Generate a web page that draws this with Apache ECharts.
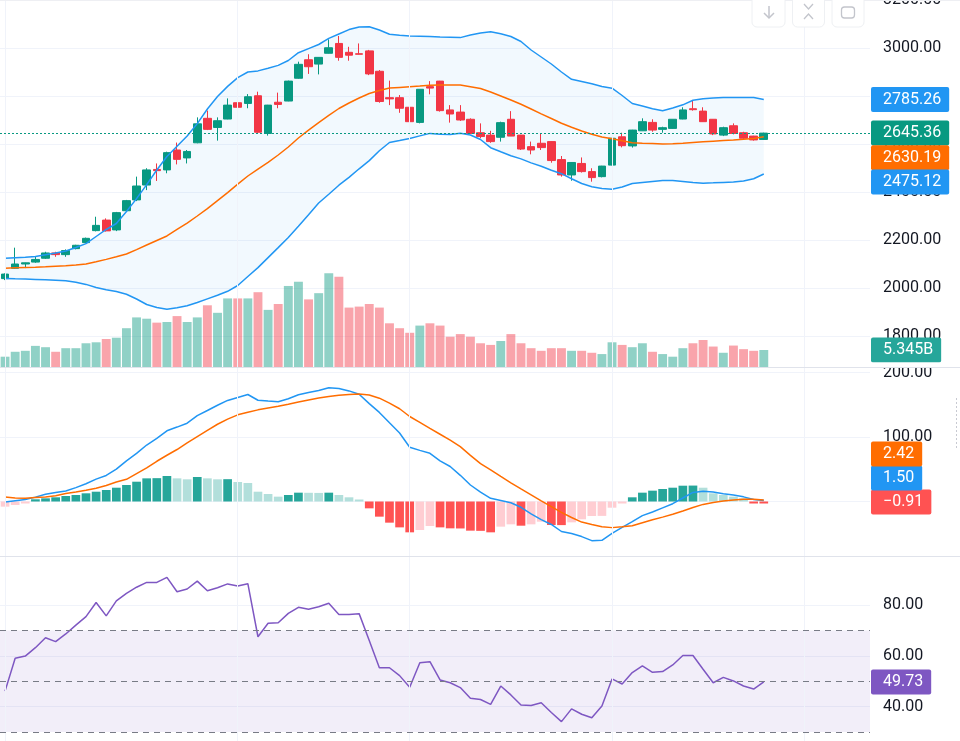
<!DOCTYPE html>
<html>
<head>
<meta charset="utf-8">
<script src="https://cdn.jsdelivr.net/npm/echarts@6/dist/echarts.min.js"></script>
<style>html,body{margin:0;padding:0;background:#fff;}#c{width:960px;height:741px;}</style>
</head>
<body>
<div id="c"></div>
<script>
// ---------- data ----------
const opens  = [2039,2082,2100,2108,2124,2146,2139,2164,2189,2239,2283,2242,2322,2367,2429,2494,2492,2575,2542,2605,2707,2669,2704,2772,2769,2801,2644,2774,2779,2874,2951,2933,2978,3019,2982,2976,2988,2903,2793,2793,2753,2690,2839,2862,2742,2733,2703,2647,2637,2628,2703,2637,2589,2603,2610,2535,2471,2519,2485,2464,2512,2630,2592,2655,2690,2661,2665,2704,2747,2737,2703,2637,2676,2647,2633,2619];
const highs  = [2061,2168,2106,2133,2151,2151,2161,2180,2210,2297,2290,2317,2367,2464,2499,2519,2568,2606,2575,2711,2739,2711,2790,2807,2808,2818,2763,2814,2864,2943,2974,2962,3036,3050,3005,3019,2992,2908,2864,2804,2783,2828,2862,2863,2762,2762,2707,2686,2655,2693,2737,2638,2610,2644,2611,2550,2524,2544,2499,2509,2624,2647,2659,2707,2703,2672,2703,2753,2783,2753,2704,2672,2686,2651,2634,2647];
const lows   = [2033,2080,2083,2105,2121,2130,2130,2161,2186,2236,2235,2237,2318,2362,2408,2446,2478,2515,2519,2603,2658,2614,2703,2744,2749,2644,2635,2749,2778,2872,2892,2890,2977,2947,2947,2973,2887,2772,2762,2730,2689,2686,2807,2735,2689,2696,2642,2624,2605,2610,2633,2575,2557,2575,2522,2464,2447,2481,2443,2461,2511,2586,2585,2654,2651,2647,2664,2703,2739,2692,2637,2633,2640,2619,2614,2618];
const closes = [2058,2100,2105,2119,2146,2139,2156,2178,2207,2261,2238,2314,2364,2425,2492,2489,2564,2536,2569,2684,2661,2697,2762,2753,2797,2649,2762,2765,2862,2932,2922,2961,3001,2961,2970,2974,2892,2777,2788,2749,2693,2828,2833,2739,2725,2700,2644,2631,2610,2689,2633,2579,2575,2585,2531,2471,2523,2485,2460,2508,2624,2593,2658,2693,2658,2668,2703,2742,2743,2693,2642,2668,2644,2624,2617,2645.36];
// volume, billions
const volumes = [3.3,4.8,5.1,6.6,6.2,4.8,5.9,5.9,7.4,7.7,8.7,9.1,12.0,15.3,14.9,13.7,13.9,15.7,13.9,15.3,19.0,16.7,21.1,21.1,21.1,23.0,17.6,19.4,24.9,26.2,20.8,22.7,28.8,27.7,18.3,18.6,19.4,18.3,13.5,12.0,10.6,12.8,13.5,12.8,9.4,10.2,9.4,7.4,6.9,8.1,10.2,7.4,5.9,5.1,5.9,5.9,5.1,5.1,4.5,4.1,7.7,6.9,6.2,7.4,4.8,4.1,3.3,5.9,7.4,8.4,6.4,4.5,6.7,5.6,5.1,5.345];
// Bollinger bands
const bbUpper  = [2124.2,2126.3,2128.3,2131.7,2138.3,2145.8,2154.2,2168.8,2185,2214.6,2243.8,2268.8,2318.8,2372.5,2430.8,2491.7,2547.9,2590.4,2633.3,2685,2745.8,2797.9,2840,2876.7,2900,2904.6,2915.8,2927.5,2947.9,2980.4,2997.5,3014.6,3040,3058.3,3076.7,3087.9,3088.8,3075,3057.5,3053.3,3050,3048.8,3047.5,3045.8,3044.6,3043.3,3054.2,3062.5,3067.5,3059.2,3047.9,3027.1,2991.7,2962.5,2933.3,2900,2869.6,2860.4,2851.3,2839.6,2832.5,2802.1,2768.8,2758.3,2747.1,2738.3,2750,2763.3,2782.5,2788.3,2791.3,2793.3,2794.2,2794.2,2793.3,2785.26];
const bbMiddle = [2082.5,2084.2,2085.4,2086.7,2088.3,2090.8,2092.9,2096.3,2100,2109.2,2119.2,2130,2141.7,2160,2179.2,2197.9,2216.7,2243.8,2270.8,2300,2330.4,2363.8,2397.5,2432.5,2466.7,2495.8,2523.8,2554.2,2587.5,2625,2657.5,2689.2,2718.8,2747.9,2770.8,2791.7,2810.4,2822.9,2832.9,2835.8,2838.8,2841.7,2845,2845.8,2845.8,2845.4,2838.8,2831.3,2816.7,2800,2783.3,2765.4,2745.8,2725.8,2706.3,2686.3,2669.6,2654.2,2640.8,2629.2,2621.7,2613.3,2605,2602.9,2601.7,2600.4,2600.8,2603.3,2606.7,2609.2,2611.7,2614.2,2616.7,2619.6,2623.3,2630.19];
const bbLower  = [2040,2038.3,2037.1,2035.8,2034.2,2032.5,2030.4,2024.2,2015,2002.1,1992.5,1985.8,1973.8,1954.2,1931.3,1918.8,1911.3,1917.5,1925.8,1939.6,1954.6,1969.6,1986.3,2010.4,2047.9,2085,2126.7,2168.3,2210.4,2257.1,2305.4,2354.2,2390.8,2428.3,2460.8,2496.7,2530.8,2571.7,2606.3,2614.2,2623.3,2633.8,2644.2,2640.8,2639.6,2644.6,2637.5,2618.8,2584.6,2567.9,2551.3,2537.9,2521.3,2507.5,2490.8,2476.3,2455.4,2435.4,2422.1,2415,2411.3,2420.8,2435.4,2439.6,2443.8,2447.9,2447.9,2444.2,2440,2436.7,2438.3,2440,2441.7,2445.8,2455,2475.12];
// MACD
const macdLine   = [-0.8,1.3,3.0,6.8,11.1,13.8,16.4,21.5,27.5,34.7,40.4,50.1,63.1,74.6,87.6,97.8,109.6,115.4,121.4,133.2,141.1,149.2,156.7,161.3,165.9,157,155.7,154.8,159.4,165.6,169,172,176.5,175.2,171.5,166.4,151.7,138.1,122,106.2,84.2,79.3,74.7,63,54.3,40.6,25.6,14.5,4.9,1.6,-2,-9,-19.3,-28.2,-35.6,-46.5,-49.7,-54.4,-60.7,-60.2,-49.3,-40.2,-31.2,-21.9,-16.2,-9.8,-3.4,5.4,14.1,16,14.6,12,10.1,7.2,3.2,1.50];
const signalLine = [6.8,5.5,5.2,6.1,7,8.8,12.4,14.6,17.3,20.7,24.9,30.2,34.4,43.3,52,62.4,71.7,80.6,90.9,100.6,110.2,119.8,127.8,134.4,138.5,142.1,144.9,147.6,150.9,154.3,157.4,160.5,162.7,164.9,165.9,166.6,165.2,160.2,152.6,143.8,131.8,122.8,113.5,104.3,95.1,85.1,71.6,58.7,49.1,38.9,29,19.5,10.4,1.1,-7.9,-16.8,-24.8,-31.9,-35.8,-39.2,-40.5,-39.2,-37.6,-33,-28.4,-24.2,-19.7,-14.6,-9.2,-4.5,-1.4,0.6,2.2,3.4,3.6,2.42];
const macdHist   = [-8.0,-5.4,-2.8,3.4,4.9,6.5,8.5,10.1,12.7,15.2,17.8,21.4,25.6,30.7,35.9,36.2,39.5,35.9,34.4,38.0,35.9,34.4,34.6,30.2,28.7,15.2,11.6,7.5,10.1,13.7,13.5,13.3,13.7,10.1,6.5,0.8,-10.6,-23.5,-32.8,-40.1,-47.8,-44.2,-38.0,-40.1,-41.6,-41.8,-45.2,-45.5,-47.8,-39.0,-35.4,-37.5,-35.4,-31.3,-36.4,-36.6,-32.3,-27.6,-22.5,-22.3,-9.6,-2.8,6.5,13.7,16.8,19.4,21.4,24.5,24.7,21.4,12.7,10.1,7.5,4.9,-0.4,-0.91];
// RSI
const rsi = [46.1,59.0,59.9,63.2,67.1,65.6,68.6,72.1,75.4,81.0,75.7,81.6,84.6,87.0,88.9,88.9,90.9,85.2,86.3,89.4,85.6,86.8,88.3,87.5,88.4,67.5,72.8,73.0,76.7,79.1,78.3,79.3,80.7,76.3,76.3,76.6,66.0,55.3,55.3,52.2,47.6,57.3,57.7,50.5,49.4,47.5,43.3,42.8,40.9,48.1,44.6,40.6,40.4,41.5,37.7,34.1,39.1,37.0,35.6,40.2,50.9,48.9,53.4,56.0,53.5,53.8,56.4,60.1,60.1,54.7,49.4,51.5,50.1,48.1,46.9,49.73];
const rsiLevels = [70, 50, 30];
const rsiBand = [30, 70];
// axis ticks
const priceTicks = [1800, 2000, 2200, 2400, 2600, 2800, 3000, 3200];
const macdTicks = [0, 100, 200];
const rsiTicks = [40, 60, 80];
// category slots (data + empty space on the right) and month-like vertical grid lines
const slotCount = 86;
const categories = Array.from({length: slotCount}, (_, i) => 'D' + (i + 1));
const timeMarks = [0, 23, 40, 60, 79];

// ---------- chart ----------
const FONT = 'Roboto, "Noto Sans", sans-serif';
const UP = '#089981', DOWN = '#F23645';
const TXT = '#131722';
const GRIDC = '#f0f3fa';
const last = opens.length - 1;

const candleData = opens.map((o, i) => [o, closes[i], lows[i], highs[i]]);
const volData = volumes.map((v, i) => ({
  value: v,
  itemStyle: {color: closes[i] >= opens[i] ? 'rgba(8,153,129,0.45)' : 'rgba(242,54,69,0.45)'}
}));
const bandDiff = bbUpper.map((u, i) => u - bbLower[i]);
const histData = macdHist.map((v, i) => {
  const prev = i > 0 ? macdHist[i - 1] : -Infinity;
  let c;
  if (v >= 0) c = v >= prev ? '#26A69A' : '#B2DFDB';
  else c = v <= prev ? '#FF5252' : '#FFCDD2';
  return {value: v, itemStyle: {color: c}};
});

function fmt(v, d) {
  const s = Math.abs(v).toFixed(d);
  return v < 0 ? '\u2212' + s : s;
}
function boxLabel(color, text, dy) {
  return {
    show: true, position: 'end', distance: 1, formatter: text,
    color: '#ffffff', backgroundColor: color, padding: [3, 8, 3, 12],
    borderRadius: 2, fontSize: 16, lineHeight: 19, fontFamily: FONT,
    offset: [0, dy || 0]
  };
}
const HIDDEN = {color: 'rgba(0,0,0,0)', width: 0.01, type: 'solid'};
function hiddenLineMark(value, label) {
  return {
    silent: true, symbol: ['none', 'none'], animation: false,
    lineStyle: HIDDEN,
    emphasis: {disabled: true},
    data: [{yAxis: value, label: label}]
  };
}
function vGrid() {
  return timeMarks.map(t => ({xAxis: t}));
}
function valueAxis(gridIndex, min, max, ticks) {
  return {
    type: 'value', gridIndex, position: 'right', min, max,
    axisLine: {show: false},
    axisTick: {show: false, customValues: ticks},
    axisLabel: {customValues: ticks, formatter: v => v.toFixed(2), color: TXT, fontSize: 16, fontFamily: FONT, margin: 13},
    splitLine: {show: true, lineStyle: {color: GRIDC, width: 1}}
  };
}
function catAxis(gridIndex) {
  return {type: 'category', gridIndex, data: categories, boundaryGap: true, show: false};
}
function gridBox(top, height) {
  return {left: 0, top, width: 870, height, containLabel: false, outerBoundsMode: 'none'};
}

const option = {
  animation: false,
  backgroundColor: '#ffffff',
  grid: [gridBox(0, 368), gridBox(267.5, 100), gridBox(368, 188), gridBox(556, 185)],
  xAxis: [catAxis(0), catAxis(1), catAxis(2), catAxis(3)],
  yAxis: [
    valueAxis(0, 1666.67, 3200, priceTicks),
    {type: 'value', gridIndex: 1, min: 0, max: 30.54, show: false, splitLine: {show: false}},
    valueAxis(2, -84.5, 207, macdTicks),
    valueAxis(3, 26.46, 99.29, rsiTicks)
  ],
  series: [
    // band base (also carries the vertical grid lines)
    {
      type: 'line', xAxisIndex: 0, yAxisIndex: 0, data: bbLower, stack: 'bb',
      symbol: 'none', silent: true, z: 1, lineStyle: {opacity: 0},
      markLine: {silent: true, symbol: ['none', 'none'], label: {show: false},
        lineStyle: {color: GRIDC, type: 'solid', width: 1}, emphasis: {disabled: true}, data: vGrid()}
    },
    {
      type: 'line', xAxisIndex: 0, yAxisIndex: 0, data: bandDiff, stack: 'bb',
      symbol: 'none', silent: true, z: 1, lineStyle: {opacity: 0},
      areaStyle: {color: 'rgba(33,150,243,0.06)', opacity: 1}
    },
    // volume
    {
      type: 'bar', xAxisIndex: 1, yAxisIndex: 1, data: volData, barWidth: '88%', silent: true, z: 2,
      markLine: hiddenLineMark(volumes[last], boxLabel('#26a69a', volumes[last].toFixed(3) + 'B', 0))
    },
    // candles
    {
      type: 'candlestick', xAxisIndex: 0, yAxisIndex: 0, data: candleData, barWidth: '80%', z: 3,
      itemStyle: {color: UP, color0: DOWN, borderColor: UP, borderColor0: DOWN, borderWidth: 1},
      markLine: {
        silent: true, symbol: ['none', 'none'], emphasis: {disabled: true},
        lineStyle: {color: '#089981', type: [2, 2], width: 1},
        data: [{yAxis: closes[last], label: boxLabel(UP, closes[last].toFixed(2), 0)}]
      }
    },
    // BB lines
    {
      type: 'line', xAxisIndex: 0, yAxisIndex: 0, data: bbUpper, symbol: 'none', silent: true, z: 4,
      lineStyle: {color: '#2196F3', width: 1.5},
      markLine: hiddenLineMark(bbUpper[last], boxLabel('#2196F3', bbUpper[last].toFixed(2), 0))
    },
    {
      type: 'line', xAxisIndex: 0, yAxisIndex: 0, data: bbMiddle, symbol: 'none', silent: true, z: 4,
      lineStyle: {color: '#FF6D00', width: 1.5},
      markLine: hiddenLineMark(bbMiddle[last], boxLabel('#FF6D00', bbMiddle[last].toFixed(2), 21))
    },
    {
      type: 'line', xAxisIndex: 0, yAxisIndex: 0, data: bbLower, symbol: 'none', silent: true, z: 4,
      lineStyle: {color: '#2196F3', width: 1.5},
      markLine: hiddenLineMark(bbLower[last], boxLabel('#2196F3', bbLower[last].toFixed(2), 8))
    },
    // MACD histogram
    {
      type: 'bar', xAxisIndex: 2, yAxisIndex: 2, data: histData, barWidth: '86%', barMinHeight: 2, silent: true, z: 2,
      markLine: {
        silent: true, symbol: ['none', 'none'], emphasis: {disabled: true}, label: {show: false},
        lineStyle: {color: GRIDC, type: 'solid', width: 1},
        data: vGrid().concat([{yAxis: macdHist[last], lineStyle: HIDDEN, label: boxLabel('#FF5252', fmt(macdHist[last], 2), 0)}])
      }
    },
    {
      type: 'line', xAxisIndex: 2, yAxisIndex: 2, data: macdLine, symbol: 'none', silent: true, z: 4,
      lineStyle: {color: '#2196F3', width: 1.5},
      markLine: hiddenLineMark(macdLine[last], boxLabel('#2196F3', fmt(macdLine[last], 2), -22.5))
    },
    {
      type: 'line', xAxisIndex: 2, yAxisIndex: 2, data: signalLine, symbol: 'none', silent: true, z: 4,
      lineStyle: {color: '#FF6D00', width: 1.5},
      markLine: hiddenLineMark(signalLine[last], boxLabel('#FF6D00', fmt(signalLine[last], 2), -46))
    },
    // RSI
    {
      type: 'line', xAxisIndex: 3, yAxisIndex: 3, data: rsi, symbol: 'none', silent: true, z: 4,
      lineStyle: {color: '#7E57C2', width: 1.5},
      markArea: {silent: true, itemStyle: {color: 'rgba(126,87,194,0.1)'}, emphasis: {disabled: true},
        data: [[{yAxis: rsiBand[1]}, {yAxis: rsiBand[0]}]]},
      markLine: {
        silent: true, symbol: ['none', 'none'], emphasis: {disabled: true}, label: {show: false},
        lineStyle: {color: GRIDC, type: 'solid', width: 1},
        data: vGrid()
          .concat(rsiLevels.map(l => ({yAxis: l, lineStyle: {color: '#787B86', type: [6, 5], width: 1}})))
          .concat([{yAxis: rsi[last], lineStyle: HIDDEN, label: boxLabel('#7E57C2', rsi[last].toFixed(2), 0)}])
      }
    }
  ],
  graphic: [
    // clip the top of the MACD scale label at the pane border
    {type: 'rect', silent: true, z: 49, shape: {x: 871, y: 362.6, width: 89, height: 5}, style: {fill: '#ffffff'}},
    {type: 'line', silent: true, z: 50, shape: {x1: 0, y1: 367.5, x2: 960, y2: 367.5}, style: {stroke: '#e0e3eb', lineWidth: 1}},
    {type: 'line', silent: true, z: 50, shape: {x1: 0, y1: 556.5, x2: 960, y2: 556.5}, style: {stroke: '#e0e3eb', lineWidth: 1}},
    {type: 'line', silent: true, z: 50, shape: {x1: 0, y1: 0.5, x2: 960, y2: 0.5}, style: {stroke: '#eeeff3', lineWidth: 1}},
    {type: 'line', silent: true, z: 50, shape: {x1: 956.5, y1: 398, x2: 956.5, y2: 448}, style: {stroke: '#c8cad2', lineWidth: 1, lineDash: [2, 2]}},
    // pane buttons
    {type: 'rect', silent: true, z: 60, shape: {x: 752, y: -6, width: 33, height: 33, r: 5}, style: {fill: '#ffffff', stroke: '#eef0f3', lineWidth: 1}},
    {type: 'rect', silent: true, z: 60, shape: {x: 792.5, y: -6, width: 32, height: 33, r: 5}, style: {fill: '#ffffff', stroke: '#eef0f3', lineWidth: 1}},
    {type: 'rect', silent: true, z: 60, shape: {x: 832, y: -6, width: 32, height: 33, r: 5}, style: {fill: '#ffffff', stroke: '#eef0f3', lineWidth: 1}},
    {type: 'polyline', silent: true, z: 61, shape: {points: [[769, 6], [769, 18]]}, style: {stroke: '#c3c5cc', lineWidth: 1.5, fill: null}},
    {type: 'polyline', silent: true, z: 61, shape: {points: [[764, 13], [769, 18], [774, 13]]}, style: {stroke: '#c3c5cc', lineWidth: 1.5, fill: null}},
    {type: 'polyline', silent: true, z: 61, shape: {points: [[804, 4], [808.5, 9], [813, 4]]}, style: {stroke: '#c3c5cc', lineWidth: 1.3, fill: null}},
    {type: 'polyline', silent: true, z: 61, shape: {points: [[804, 19], [808.5, 14], [813, 19]]}, style: {stroke: '#c3c5cc', lineWidth: 1.3, fill: null}},
    {type: 'rect', silent: true, z: 61, shape: {x: 841.5, y: 7, width: 13, height: 11, r: 3}, style: {fill: null, stroke: '#c3c5cc', lineWidth: 1.3}}
  ]
};

const chart = echarts.init(document.getElementById('c'));
chart.setOption(option);
</script>
</body>
</html>
